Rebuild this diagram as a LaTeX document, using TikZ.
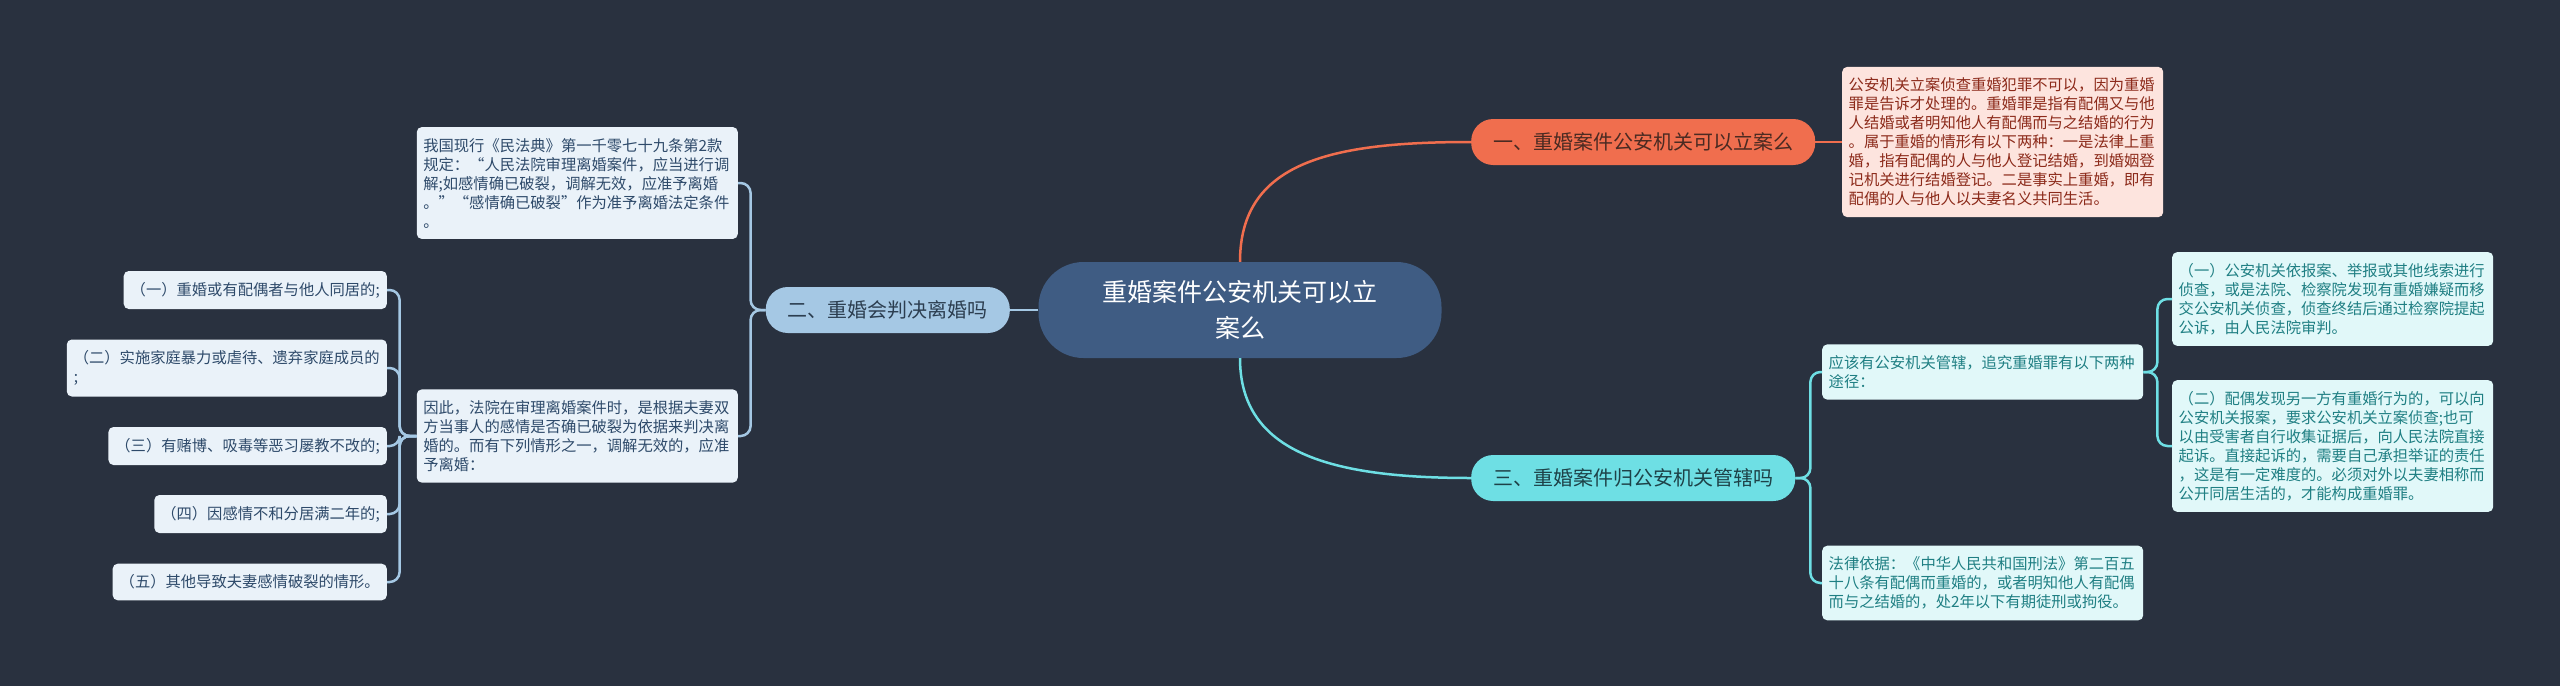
\documentclass[tikz,border=0pt]{standalone}
\usepackage{fontspec}
\setmainfont{Noto Sans CJK SC}
\usepackage{tikz}
\usetikzlibrary{shapes,arrows}
\definecolor{bgnavy}{HTML}{29313F}
\definecolor{rootblue}{HTML}{3F5C83}
\definecolor{redmain}{HTML}{F06E4E}
\definecolor{redpale}{HTML}{FDE4DE}
\definecolor{redtext}{HTML}{8C2A1A}
\definecolor{reddark}{HTML}{4A2A22}
\definecolor{bluemain}{HTML}{A5C8E4}
\definecolor{bluepale}{HTML}{EAF2F9}
\definecolor{bluetext}{HTML}{2E4A6A}
\definecolor{bluedark}{HTML}{2C3E50}
\definecolor{cyanmain}{HTML}{6EDFE4}
\definecolor{cyanpale}{HTML}{E1F8F9}
\definecolor{cyantext}{HTML}{1F7F83}
\definecolor{cyandark}{HTML}{1E4248}

\begin{document}
\begin{tikzpicture}[x=1pt, y=-1pt, font=\fontsize{15.3}{19}\selectfont]
    % Define block styles
    \tikzstyle{root} = [rectangle, fill=rootblue, text=white, rounded corners=45pt,
        minimum width=403pt, minimum height=96pt, align=center,
        font=\fontsize{25}{36}\selectfont]
    \tikzstyle{topic} = [rectangle, rounded corners=22pt, minimum height=46pt,
        inner xsep=22pt, font=\fontsize{20}{24}\selectfont]
    \tikzstyle{leaf} = [rectangle, rounded corners=5pt, inner xsep=6.5pt,
        inner ysep=11pt, text width=308pt, align=left]
    \tikzstyle{item} = [rectangle, rounded corners=5pt, inner xsep=7pt,
        inner ysep=11pt, align=left, fill=bluepale, text=bluetext, anchor=east]
    \tikzstyle{redline} = [draw=redmain, line width=2.5pt]
    \tikzstyle{blueline} = [draw=bluemain, line width=2.5pt, rounded corners=10pt]
    \tikzstyle{cyanline} = [draw=cyanmain, line width=2.5pt, rounded corners=10pt]

    \fill [bgnavy] (0,0) rectangle (2560,686);
    \useasboundingbox (0,0) rectangle (2560,686);

    % Place nodes
    \node [root] (root) at (1240,310) {重婚案件公安机关可以立\\案么};
    \node [topic, fill=redmain, text=reddark, anchor=west] (b1) at (1471,142) {一、重婚案件公安机关可以立案么};
    \node [topic, fill=bluemain, text=bluedark, anchor=east] (b2) at (1010,310) {二、重婚会判决离婚吗};
    \node [topic, fill=cyanmain, text=cyandark, anchor=west] (b3) at (1471,478) {三、重婚案件归公安机关管辖吗};

    \node [leaf, fill=redpale, text=redtext, anchor=west] (b1text) at (1842,142)
        {公安机关立案侦查重婚犯罪不可以，因为重婚\\罪是告诉才处理的。重婚罪是指有配偶又与他\\人结婚或者明知他人有配偶而与之结婚的行为\\。属于重婚的情形有以下两种：一是法律上重\\婚，指有配偶的人与他人登记结婚，到婚姻登\\记机关进行结婚登记。二是事实上重婚，即有\\配偶的人与他人以夫妻名义共同生活。};

    \node [leaf, fill=bluepale, text=bluetext, anchor=east] (b2law) at (738,183)
        {我国现行《民法典》第一千零七十九条第2款\\规定：“人民法院审理离婚案件，应当进行调\\解;如感情确已破裂，调解无效，应准予离婚\\。”“感情确已破裂”作为准予离婚法定条件\\。};
    \node [leaf, fill=bluepale, text=bluetext, anchor=east] (b2then) at (738,436)
        {因此，法院在审理离婚案件时，是根据夫妻双\\方当事人的感情是否确已破裂为依据来判决离\\婚的。而有下列情形之一，调解无效的，应准\\予离婚：};
    \node [item] (c1) at (387,290) {（一）重婚或有配偶者与他人同居的;};
    \node [item] (c2) at (387,368) {（二）实施家庭暴力或虐待、遗弃家庭成员的\\;};
    \node [item] (c3) at (387,446) {（三）有赌博、吸毒等恶习屡教不改的;};
    \node [item] (c4) at (387,514) {（四）因感情不和分居满二年的;};
    \node [item] (c5) at (387,582) {（五）其他导致夫妻感情破裂的情形。};

    \node [leaf, fill=cyanpale, text=cyantext, anchor=west] (b3who) at (1822,372)
        {应该有公安机关管辖，追究重婚罪有以下两种\\途径：};
    \node [leaf, fill=cyanpale, text=cyantext, anchor=west] (b3law) at (1822,583)
        {法律依据：《中华人民共和国刑法》第二百五\\十八条有配偶而重婚的，或者明知他人有配偶\\而与之结婚的，处2年以下有期徒刑或拘役。};
    \node [leaf, fill=cyanpale, text=cyantext, anchor=west] (b3one) at (2172,299)
        {（一）公安机关依报案、举报或其他线索进行\\侦查，或是法院、检察院发现有重婚嫌疑而移\\交公安机关侦查，侦查终结后通过检察院提起\\公诉，由人民法院审判。};
    \node [leaf, fill=cyanpale, text=cyantext, anchor=west] (b3two) at (2172,446)
        {（二）配偶发现另一方有重婚行为的，可以向\\公安机关报案，要求公安机关立案侦查;也可\\以由受害者自行收集证据后，向人民法院直接\\起诉。直接起诉的，需要自己承担举证的责任\\，这是有一定难度的。必须对外以夫妻相称而\\公开同居生活的，才能构成重婚罪。};

    % Draw edges
    \path [redline] (root.north) .. controls +(0,-100) and +(-140,0) .. (b1.west);
    \path [redline] (b1.east) -- (b1text.west);
    \path [draw=bluemain, line width=2.5pt] (root.west) -- (b2.east);
    \path [draw=cyanmain, line width=2.5pt] (root.south) .. controls +(0,95) and +(-140,0) .. (b3.west);

    \path [blueline] (b2.west) -- ++(-15,0) |- (b2law.east);
    \path [blueline] (b2.west) -- ++(-15,0) |- (b2then.east);
    \foreach \c in {c1,c2,c3,c4,c5}
        \path [blueline] (b2then.west) -- ++(-17,0) |- (\c.east);

    \path [cyanline] (b3.east) -- ++(15,0) |- (b3who.west);
    \path [cyanline] (b3.east) -- ++(15,0) |- (b3law.west);
    \path [cyanline] (b3who.east) -- ++(14,0) |- (b3one.west);
    \path [cyanline] (b3who.east) -- ++(14,0) |- (b3two.west);
\end{tikzpicture}
\end{document}
